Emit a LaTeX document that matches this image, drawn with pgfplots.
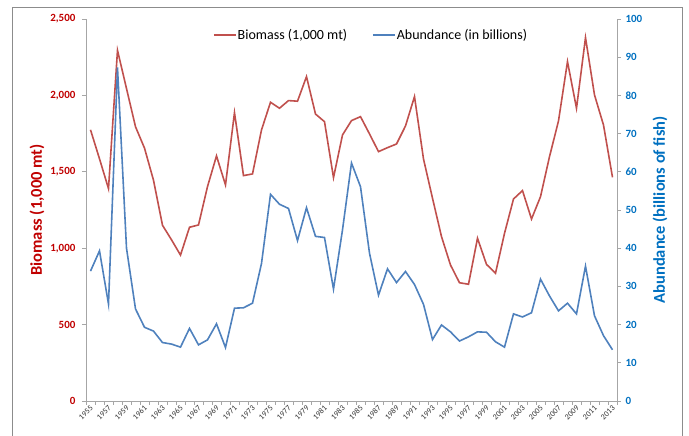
\documentclass[border=0pt]{standalone}
\usepackage{fontspec}
\setmainfont{Carlito}
\usepackage{pgfplots}
\usepackage{pgfplotstable}
\pgfplotsset{compat=1.18}
\definecolor{bioR}{HTML}{C0504D}
\definecolor{abuB}{HTML}{4F81BD}
\definecolor{labR}{HTML}{C00000}
\definecolor{labB}{HTML}{0070C0}
\definecolor{axg}{HTML}{A6A6A6}
\definecolor{frameg}{HTML}{8C8C8C}

\pgfplotstableread{
year bio abu
1955 1775 34.0
1956 1585 39.3
1957 1390 25.4
1958 2295 87.3
1959 2045 40.0
1960 1795 24.1
1961 1655 19.3
1962 1445 18.3
1963 1150 15.3
1964 1055 14.9
1965 955 14.1
1966 1137 19.0
1967 1152 14.7
1968 1403 16.0
1969 1604 20.2
1970 1414 14.0
1971 1887 24.3
1972 1475 24.4
1973 1486 25.6
1974 1774 36.0
1975 1955 54.1
1976 1916 51.5
1977 1966 50.4
1978 1962 42.0
1979 2123 50.6
1980 1878 43.1
1981 1828 42.8
1982 1462 29.3
1983 1741 44.8
1984 1835 62.3
1985 1861 56.1
1986 1748 38.7
1987 1632 27.7
1988 1658 34.6
1989 1682 31.0
1990 1800 33.9
1991 1992 30.5
1992 1584 25.3
1993 1327 16.1
1994 1076 19.9
1995 890 18.1
1996 774 15.7
1997 764 16.8
1998 1065 18.1
1999 894 18.0
2000 836 15.5
2001 1097 14.1
2002 1322 22.8
2003 1377 22.0
2004 1191 23.1
2005 1337 31.9
2006 1599 27.5
2007 1833 23.6
2008 2221 25.6
2009 1916 22.8
2010 2378 35.3
2011 2003 22.3
2012 1806 17.1
2013 1464 13.4
}\data

\begin{document}
\begin{tikzpicture}
\useasboundingbox (-86pt,-35pt) rectangle (603pt,401pt);
\draw[frameg, line width=0.9pt] (-74pt,-60pt) rectangle (596pt,394pt);
\pgfplotsset{
  common/.style={
    at={(0pt,0pt)}, anchor=south west, scale only axis,
    width=531pt, height=382pt,
    xmin=1954.5, xmax=2013.5,
    axis line style={axg, line width=0.8pt, -},
    tick align=outside,
    every tick/.style={axg, line width=0.6pt},
    /pgf/number format/assume math mode=true,
  }
}
\begin{axis}[common,
  ymin=0, ymax=2500,
  axis x line*=bottom, axis y line*=left,
  ytick={0,500,...,2500},
  major tick length=4pt,
  xtick={1955,1957,...,2013},
  major x tick style={draw=none},
  minor xtick={1954.5,1955.5,...,2013.5},
  minor tick length=4pt,
  x tick label style={rotate=45, anchor=east, font=\fontsize{8}{9}\selectfont, color=black!80, /pgf/number format/1000 sep={}, inner sep=0.3pt, yshift=-2pt},
  y tick label style={font=\bfseries\fontsize{11}{13}\selectfont, color=labR, /pgf/number format/1000 sep={,}, xshift=-3pt},
  ylabel={Biomass (1,000 mt)},
  ylabel style={at={(axis description cs:-0.0923,0.5)}, anchor=center, font=\bfseries\fontsize{16.5}{19}\selectfont, color=labR},
]
\addplot[bioR, line width=1.6pt, no markers] table[x=year, y=bio] {\data};
\end{axis}
\begin{axis}[common,
  ymin=0, ymax=100,
  axis x line=none, axis y line*=right,
  ytick={0,10,...,100},
  major tick length=4pt,
  y tick label style={font=\bfseries\fontsize{11}{13}\selectfont, color=labB, xshift=1pt},
  ylabel={Abundance (billions of fish)},
  ylabel style={at={(axis description cs:1.081,0.5)}, anchor=center, font=\bfseries\fontsize{16.5}{19}\selectfont, color=labB},
  legend style={at={(axis description cs:0.239,0.958)}, anchor=west, draw=none, fill=none,
    font=\fontsize{14}{16}\selectfont, inner sep=0pt,
    nodes={inner xsep=1pt, inner ysep=1pt},
    /tikz/every even column/.append style={column sep=24pt}},
  legend columns=2,
  legend image code/.code={\draw[#1] (0pt,0pt) -- (22pt,0pt);},
]
\addlegendimage{bioR, line width=1.6pt}
\addlegendentry{Biomass (1,000 mt)}
\addplot[abuB, line width=1.6pt, no markers] table[x=year, y=abu] {\data};
\addlegendentry{Abundance (in billions)}
\end{axis}
\end{tikzpicture}
\end{document}
